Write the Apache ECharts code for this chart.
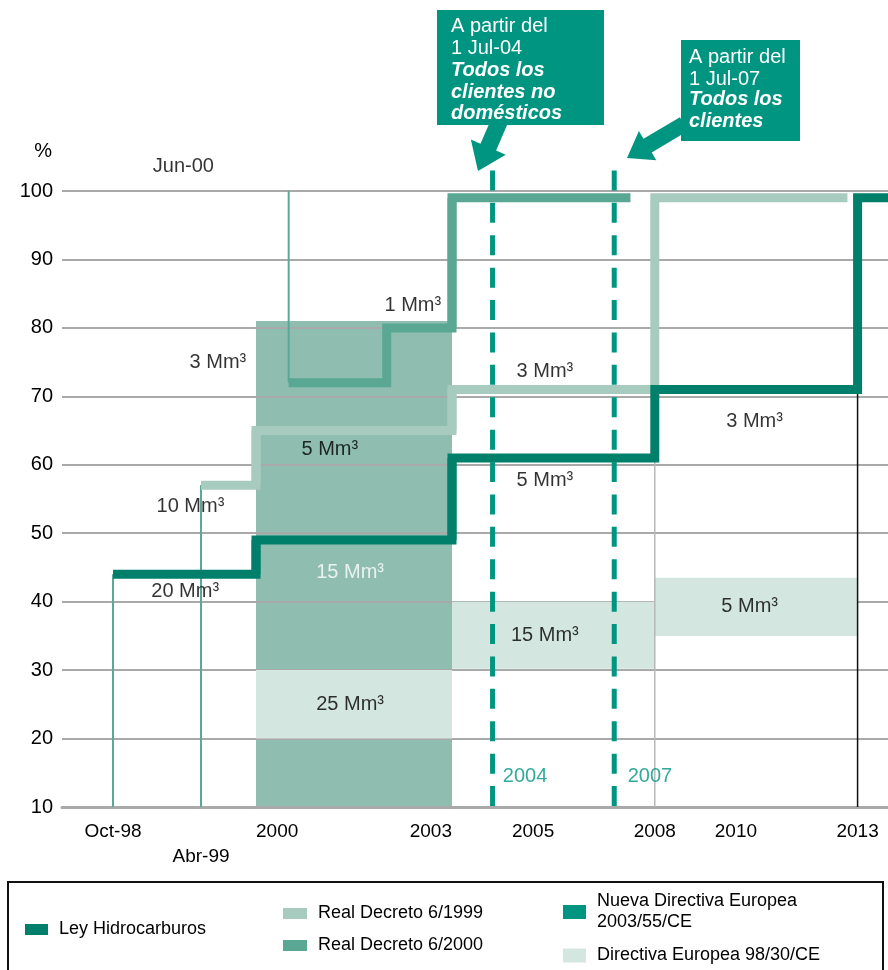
<!DOCTYPE html>
<html>
<head>
<meta charset="utf-8">
<title>Calendario de liberalización del mercado de gas</title>
<script src="https://cdn.jsdelivr.net/npm/echarts@6.0.0/dist/echarts.min.js"></script>
<style>
  html, body { margin: 0; padding: 0; background: #fff; }
  #main { width: 888px; height: 970px; }
</style>
</head>
<body>
<div id="main"></div>
<script>
// fechas de cada tramo (año decimal) y % del mercado liberalizado
var leyFechas = [1998.75, 2000, 2003, 2008, 2013, 2013.75];
var leyNiveles = [44, 49, 61, 71, 99];
var rd99Fechas = [1999.25, 2000, 2003, 2008, 2012.75];
var rd99Niveles = [57, 65, 71, 99];
var rd00Fechas = [2000.5, 2002, 2003, 2007.4];
var rd00Niveles = [72, 80, 99];
// Directiva 98/30/CE: [desde, hasta, % min, % max]
var dirBandas = [[2000, 2003, 20, 30], [2003, 2008, 30.2, 40], [2008, 2013, 35, 43.5]];
var zonaRD00 = [[2000, 2003, 10, 81]];
// Nueva Directiva 2003/55/CE
var nuevaFechas = [2004, 2007];
var nuevaTope = 103;
// ejes
var yTicks = [10, 20, 30, 40, 50, 60, 70, 80, 90, 100];
var xTickValores = [1998.75, 1999.25, 2000, 2003, 2005, 2008, 2010, 2013];
var xTickTextos = ['Oct-98', 'Abr-99', '2000', '2003', '2005', '2008', '2010', '2013'];

var C = {
  ley: '#00806b',
  rd99: '#a7cbbf',
  rd00: '#5aa794',
  zona: '#8fbdaf',
  dir: '#d4e6e0',
  nueva: '#009580',
  fino: '#5aa898',
  rejilla: '#a9a9a9',
  texto: '#000'
};
var FUENTE = '"Liberation Sans", Arial, sans-serif';

// rótulos en coordenadas de datos [texto, año, %, color]
var rotulos = [
  ['3 Mm³', 1999.48, 75], ['1 Mm³', 2002.4, 83.3], ['5 Mm³', 2001.13, 62.3],
  ['10 Mm³', 1999.19, 53.9], ['20 Mm³', 1999.16, 41.5], ['15 Mm³', 2001.44, 44.2, '#fff'],
  ['25 Mm³', 2001.44, 25], ['3 Mm³', 2005.29, 73.7], ['5 Mm³', 2005.29, 57.7],
  ['3 Mm³', 2010.46, 66.3], ['15 Mm³', 2005.29, 35], ['5 Mm³', 2010.34, 39.3],
  ['2004', 2004.8, 14.4, C.nueva], ['2007', 2007.88, 14.4, C.nueva],
  ['Jun-00', 1999.15, 103.6]
];

// el eje X del original no es lineal: se arma por tramos
var tramos = [
  { min: 1998.46, max: 1999.25, left: 62, width: 139, align: 'center' },
  { min: 1999.25, max: 2000, left: 201, width: 55, align: 'center', margin: 40 },
  { min: 2000, max: 2003, left: 256, width: 196, align: 'left' },
  { min: 2003, max: 2013.75, left: 452, width: 436, align: 'right' }
];

function escalones(fechas, niveles) {
  var pts = [];
  for (var i = 0; i < niveles.length; i++) {
    pts.push([fechas[i], niveles[i]], [fechas[i + 1], niveles[i]]);
  }
  return pts;
}

function recortar(pts, a, b) {
  var out = [];
  for (var i = 0; i < pts.length - 1; i++) {
    var p = pts[i], q = pts[i + 1];
    var x0 = Math.max(Math.min(p[0], q[0]), a), x1 = Math.min(Math.max(p[0], q[0]), b);
    if (x0 > x1) continue;
    var s = p[0] === q[0] ? [p, q] : [[x0, p[1]], [x1, q[1]]];
    s.forEach(function (pt) {
      var l = out[out.length - 1];
      if (!l || l[0] !== pt[0] || l[1] !== pt[1]) out.push(pt);
    });
  }
  return out;
}

var trazos = [
  { name: 'Ley Hidrocarburos', pts: [[leyFechas[0], 10], [leyFechas[0], leyNiveles[0]]], color: C.fino, width: 2, z: 3 },
  { name: 'Real Decreto 6/1999', pts: [[rd99Fechas[0], 10], [rd99Fechas[0], rd99Niveles[0]]], color: C.fino, width: 2, z: 3 },
  { name: 'Real Decreto 6/2000', pts: [[rd00Fechas[0], 100], [rd00Fechas[0], rd00Niveles[0]]], color: C.fino, width: 2, z: 3 },
  { name: 'Ley Hidrocarburos', pts: [[leyFechas[3], 10], [leyFechas[3], leyNiveles[2]]], color: '#b8b8b8', width: 1.5, z: 3 },
  { name: 'Ley Hidrocarburos', pts: [[leyFechas[4], 10], [leyFechas[4], leyNiveles[3]]], color: '#111', width: 1.5, z: 3 },
  { name: 'Real Decreto 6/2000', pts: escalones(rd00Fechas, rd00Niveles), color: C.rd00, width: 9, z: 4 },
  { name: 'Real Decreto 6/1999', pts: escalones(rd99Fechas, rd99Niveles), color: C.rd99, width: 9, z: 4 },
  { name: 'Ley Hidrocarburos', pts: escalones(leyFechas, leyNiveles), color: C.ley, width: 9, z: 4 }
];
nuevaFechas.forEach(function (f) {
  // de arriba abajo para que el trazo empiece con raya
  trazos.push({ name: 'Nueva Directiva Europea\n2003/55/CE', pts: [[f, nuevaTope], [f, 10]], color: C.nueva, width: 5, z: 6, dash: [20, 12.4] });
});

function rectangulos(name, rects, color, z, gi, g) {
  var datos = [];
  rects.forEach(function (r) {
    var x0 = Math.max(r[0], g.min), x1 = Math.min(r[1], g.max);
    if (x1 > x0) datos.push([x0, x1, r[2], r[3]]);
  });
  if (!datos.length) return null;
  return {
    type: 'custom', name: name, xAxisIndex: gi, yAxisIndex: gi, z: z, silent: true,
    itemStyle: { color: color },
    encode: { x: [0, 1], y: [2, 3] },
    data: datos,
    renderItem: function (params, api) {
      var p0 = api.coord([api.value(0), api.value(3)]);
      var p1 = api.coord([api.value(1), api.value(2)]);
      return { type: 'rect', shape: { x: p0[0], y: p0[1], width: p1[0] - p0[0], height: p1[1] - p0[1] }, style: { fill: color } };
    }
  };
}

var grids = [], xAxes = [], yAxes = [], series = [];
tramos.forEach(function (g, gi) {
  grids.push({ left: g.left, width: g.width, top: 191, height: 616 });
  var ticks = xTickValores.filter(function (v) { return v >= g.min && v < g.max; });
  xAxes.push({
    type: 'value', gridIndex: gi, min: g.min, max: g.max, z: 1,
    axisLine: { show: true, onZero: false, lineStyle: { color: C.rejilla, width: 3 } },
    axisTick: { show: false },
    splitLine: { show: false },
    axisLabel: {
      customValues: ticks, margin: g.margin || 15, alignMinLabel: g.align,
      color: C.texto, fontSize: 19, fontFamily: FUENTE,
      formatter: function (v) { return xTickTextos[xTickValores.indexOf(v)] || ''; }
    }
  });
  yAxes.push({
    type: 'value', gridIndex: gi, min: yTicks[0], max: yTicks[yTicks.length - 1], interval: 10, z: 1,
    name: gi === 0 ? '%' : '', nameLocation: 'end', nameGap: 30,
    nameTextStyle: { color: C.texto, fontSize: 20, fontFamily: FUENTE, align: 'right', padding: [0, 10, 0, 0] },
    axisLine: { show: false }, axisTick: { show: false },
    splitLine: { show: true, lineStyle: { color: C.rejilla, width: 2 } },
    axisLabel: { show: gi === 0, margin: 9, color: C.texto, fontSize: 20, fontFamily: FUENTE }
  });

  var s1 = rectangulos('Zona RD 6/2000', zonaRD00, C.zona, 0, gi, g);
  if (s1) series.push(s1);
  var s2 = rectangulos('Directiva Europea 98/30/CE', dirBandas, C.dir, 2, gi, g);
  if (s2) series.push(s2);

  trazos.forEach(function (t) {
    var d = recortar(t.pts, g.min, g.max);
    if (d.length < 2) return;
    series.push({
      type: 'line', name: t.name, xAxisIndex: gi, yAxisIndex: gi, data: d, z: t.z,
      symbol: 'none', clip: false, silent: true,
      itemStyle: { color: t.color },
      lineStyle: { color: t.color, width: t.width, join: 'miter', cap: 'butt', type: t.dash || 'solid' }
    });
  });

  var etq = rotulos.filter(function (r) { return r[1] >= g.min && r[1] < g.max; });
  if (etq.length) {
    series.push({
      type: 'scatter', xAxisIndex: gi, yAxisIndex: gi, z: 8, silent: true, clip: false,
      symbolSize: 1, itemStyle: { color: 'rgba(0,0,0,0)' },
      label: { show: true, position: 'inside', formatter: '{b}', fontSize: 20, fontFamily: FUENTE, color: C.texto },
      data: etq.map(function (r) {
        return { name: r[0], value: [r[1], r[2]], label: r[3] ? { color: r[3] } : {} };
      })
    });
  }
});

function flecha(x1, y1, x2, y2, sw, hw, hl) {
  var dx = x2 - x1, dy = y2 - y1, L = Math.sqrt(dx * dx + dy * dy);
  var ux = dx / L, uy = dy / L, nx = -uy, ny = ux;
  var bx = x2 - ux * hl, by = y2 - uy * hl;
  return [
    [x1 + nx * sw / 2, y1 + ny * sw / 2], [bx + nx * sw / 2, by + ny * sw / 2],
    [bx + nx * hw / 2, by + ny * hw / 2], [x2, y2],
    [bx - nx * hw / 2, by - ny * hw / 2], [bx - nx * sw / 2, by - ny * sw / 2],
    [x1 - nx * sw / 2, y1 - ny * sw / 2]
  ];
}

function texto(x, y, t, font) {
  return { type: 'text', x: x, y: y, style: { text: t, fill: '#fff', font: font, lineHeight: 21.5, align: 'left', verticalAlign: 'top', textAlign: 'left', textVerticalAlign: 'top' } };
}

var leyendaTexto = { color: C.texto, fontSize: 18, fontFamily: FUENTE, lineHeight: 21, padding: [0, 0, 0, 6] };

var option = {
  animation: false,
  textStyle: { fontFamily: FUENTE },
  grid: grids,
  xAxis: xAxes,
  yAxis: yAxes,
  series: series,
  legend: [
    {
      left: 20, top: 914, itemWidth: 23, itemHeight: 11, selectedMode: false, textStyle: leyendaTexto,
      data: [{ name: 'Ley Hidrocarburos', icon: 'rect', itemStyle: { color: C.ley } }]
    },
    {
      left: 278, top: 898, orient: 'vertical', itemGap: 11, itemWidth: 24, itemHeight: 11, selectedMode: false, textStyle: leyendaTexto,
      data: [
        { name: 'Real Decreto 6/1999', icon: 'rect', itemStyle: { color: C.rd99 } },
        { name: 'Real Decreto 6/2000', icon: 'rect', itemStyle: { color: C.rd00 } }
      ]
    },
    {
      left: 558, top: 886, orient: 'vertical', itemGap: 12, itemWidth: 23, itemHeight: 14, selectedMode: false, textStyle: leyendaTexto,
      data: [
        { name: 'Nueva Directiva Europea\n2003/55/CE', icon: 'rect', itemStyle: { color: C.nueva } },
        { name: 'Directiva Europea 98/30/CE', icon: 'rect', itemStyle: { color: C.dir } }
      ]
    }
  ],
  graphic: [
    { type: 'rect', shape: { x: 8, y: 882, width: 875, height: 120 }, style: { fill: 'none', stroke: '#111', lineWidth: 2 } },
    // flechas primero: los recuadros las tapan
    { type: 'polygon', shape: { points: flecha(500, 120, 478, 171, 17, 38, 26) }, style: { fill: C.nueva } },
    { type: 'polygon', shape: { points: flecha(684, 124, 627, 158, 16, 34, 24) }, style: { fill: C.nueva } },
    { type: 'rect', shape: { x: 437, y: 10, width: 167, height: 115 }, style: { fill: C.nueva } },
    { type: 'rect', shape: { x: 681, y: 40, width: 119, height: 101 }, style: { fill: C.nueva } },
    texto(451, 16, 'A partir del\n1 Jul-04', '20px ' + FUENTE),
    texto(451, 60, 'Todos los\nclientes no\ndomésticos', 'italic bold 20px ' + FUENTE),
    texto(689, 47, 'A partir del\n1 Jul-07', '20px ' + FUENTE),
    texto(689, 89, 'Todos los\nclientes', 'italic bold 20px ' + FUENTE)
  ]
};

var chart = echarts.init(document.getElementById('main'));
chart.setOption(option);
</script>
</body>
</html>
